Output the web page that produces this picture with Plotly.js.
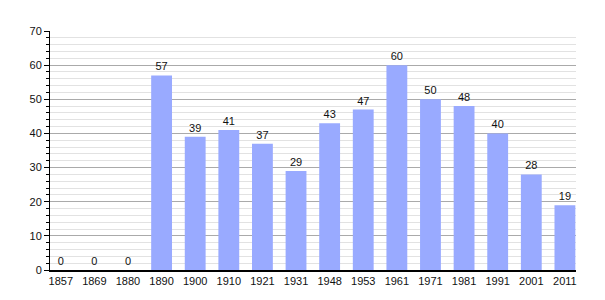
<!DOCTYPE html>
<html>
<head>
<meta charset="utf-8">
<script src="https://cdn.plot.ly/plotly-3.0.1.min.js"></script>
<style>html,body{margin:0;padding:0;background:#fff;}#chart{width:605px;height:300px;}</style>
</head>
<body>
<div id="chart"></div>
<script>
const years = ["1857","1869","1880","1890","1900","1910","1921","1931","1948","1953","1961","1971","1981","1991","2001","2011"];
const population = [0,0,0,57,39,41,37,29,43,47,60,50,48,40,28,19];

const labelFont = {family: 'Liberation Sans, Arial, sans-serif', size: 11, color: '#111'};
const trace = {
  type: 'bar',
  x: years,
  y: population,
  marker: {color: '#99aaff', line: {width: 0}},
  width: 0.62,
  text: population.map(String),
  textposition: 'outside',
  cliponaxis: false,
  constraintext: 'none',
  textfont: labelFont,
  outsidetextfont: labelFont,
  insidetextfont: labelFont,
  hoverinfo: 'x+y'
};

const layout = {
  width: 605, height: 300,
  margin: {l: 50, r: 29, t: 31, b: 30},
  paper_bgcolor: '#fff', plot_bgcolor: '#fff',
  showlegend: false,
  font: {family: 'Liberation Sans, Arial, sans-serif', size: 11, color: '#111'},
  xaxis: {
    type: 'category',
    range: [-0.32, 15.33],
    showline: true, linecolor: '#000', linewidth: 1.5,
    ticks: '', showgrid: false, zeroline: false,
    tickfont: {size: 11, color: '#111'}
  },
  yaxis: {
    range: [0, 70],
    dtick: 10, tick0: 0,
    showline: true, linecolor: '#000', linewidth: 1,
    ticks: 'outside', ticklen: 5, tickcolor: '#000',
    showgrid: true, gridcolor: '#aaaaaa', gridwidth: 1,
    zeroline: false,
    tickfont: {size: 11, color: '#111'},
    minor: {dtick: 2, tick0: 0, showgrid: true, gridcolor: '#e2e2e2', gridwidth: 1, ticks: 'outside', ticklen: 3, tickcolor: '#000'}
  }
};

Plotly.newPlot('chart', [trace], layout, {displayModeBar: false, staticPlot: true});
</script>
</body>
</html>
